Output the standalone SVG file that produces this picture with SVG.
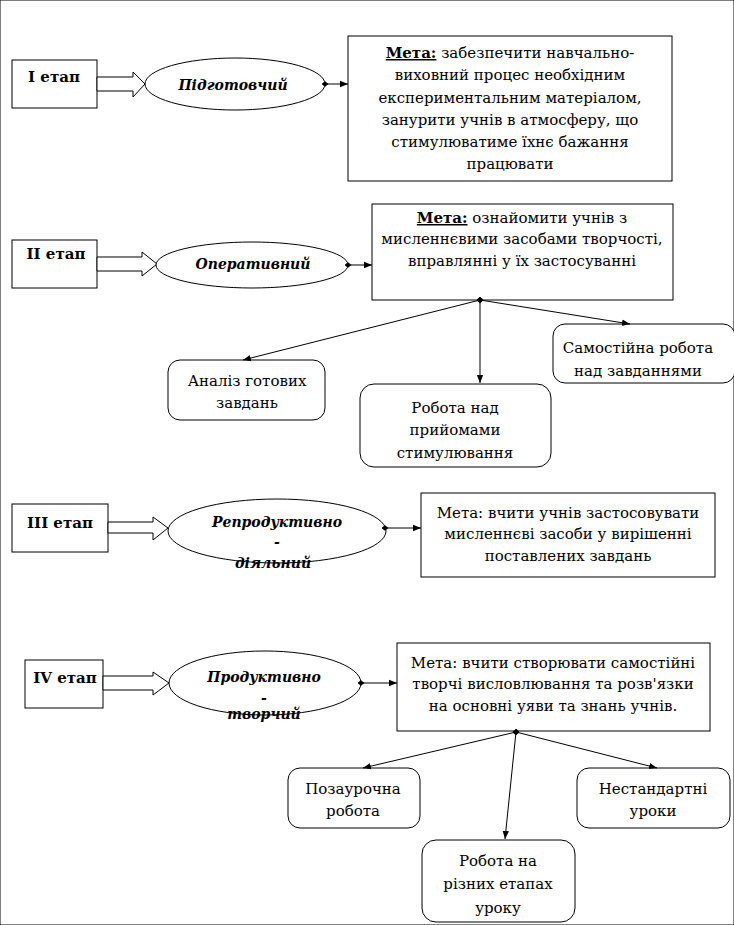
<svg xmlns="http://www.w3.org/2000/svg" width="734" height="925" viewBox="0 0 734 925" font-family="'DejaVu Serif', serif">
<defs>
<marker id="tri" viewBox="0 0 10 10" refX="10" refY="5" markerWidth="8" markerHeight="8" markerUnits="userSpaceOnUse" orient="auto"><path d="M0,1 L10,5 L0,9 Z" fill="#000"/></marker>
<marker id="dia" viewBox="0 0 10 10" refX="5" refY="5" markerWidth="7" markerHeight="7" markerUnits="userSpaceOnUse" orient="auto"><path d="M0,5 L5,1 L10,5 L5,9 Z" fill="#000"/></marker>
</defs>
<style>
rect, ellipse, polygon { fill: #fff; stroke: #000; stroke-width: 1; }
text { font-size: 15px; fill: #000; text-anchor: middle; }
.stage { font-weight: bold; font-size: 15px; }
.oval { font-weight: bold; font-style: italic; font-size: 14px; }
.m { font-weight: bold; text-decoration: underline; }
.c line { stroke: #000; stroke-width: 1; marker-start: url(#dia); marker-end: url(#tri); }
</style>
<rect width="734" height="925" fill="#fff" stroke="none"/>

<!-- Stage 1 -->
<g id="stage1">
<rect x="12" y="60" width="85" height="48"/>
<text class="stage" x="54" y="82">І етап</text>
</g>
<g id="arrow1"><polygon points="97,77 133,77 133,72 145,84 133,97 133,91 97,91"/></g>
<g id="oval1">
<ellipse cx="235" cy="84" rx="90" ry="26"/>
<text class="oval" x="233" y="90">Підготовчий</text>
</g>
<g id="goal1">
<rect x="348" y="36" width="324" height="145"/>
<text x="510" y="58"><tspan class="m">Мета:</tspan> забезпечити навчально-</text>
<text x="510" y="80">виховний процес необхідним</text>
<text x="510" y="103">експериментальним матеріалом,</text>
<text x="510" y="125">занурити учнів в атмосферу, що</text>
<text x="510" y="147">стимулюватиме їхнє бажання</text>
<text x="510" y="169">працювати</text>
</g>

<!-- Stage 2 -->
<g id="stage2">
<rect x="12" y="240" width="85" height="48"/>
<text class="stage" x="56" y="259">ІІ етап</text>
</g>
<g id="arrow2"><polygon points="97,257 142,257 142,252 157,264 142,276 142,271 97,271"/></g>
<g id="oval2">
<ellipse cx="252" cy="265" rx="96" ry="23"/>
<text class="oval" x="253" y="269">Оперативний</text>
</g>
<g id="goal2">
<rect x="372" y="204" width="301" height="96"/>
<text x="522" y="223"><tspan class="m">Мета:</tspan> ознайомити учнів з</text>
<text x="522" y="244">мисленнєвими засобами творчості,</text>
<text x="522" y="266">вправлянні у їх застосуванні</text>
</g>
<g id="self">
<rect x="553" y="324" width="182" height="59" rx="12"/>
<text x="638" y="353">Самостійна робота</text>
<text x="638" y="376">над завданнями</text>
</g>
<g id="analysis">
<rect x="168" y="360" width="157" height="60" rx="12"/>
<text x="247" y="386">Аналіз готових</text>
<text x="247" y="408">завдань</text>
</g>
<g id="stim">
<rect x="360" y="384" width="191" height="83" rx="14"/>
<text x="455" y="413">Робота над</text>
<text x="455" y="435">прийомами</text>
<text x="455" y="458">стимулювання</text>
</g>

<!-- Stage 3 -->
<g id="stage3">
<rect x="12" y="504" width="96" height="48"/>
<text class="stage" x="60" y="528">ІІІ етап</text>
</g>
<g id="arrow3"><polygon points="108,522 153,522 153,517 168,528 153,540 153,533 108,533"/></g>
<g id="oval3">
<ellipse cx="277" cy="531" rx="109" ry="32"/>
<text class="oval" x="277" y="527">Репродуктивно</text>
<text class="oval" x="277" y="547">-</text>
<text class="oval" x="273" y="568">діяльний</text>
</g>
<g id="goal3">
<rect x="421" y="493" width="294" height="84"/>
<text x="568" y="518">Мета: вчити учнів застосовувати</text>
<text x="568" y="539">мисленнєві засоби у вирішенні</text>
<text x="568" y="561">поставлених завдань</text>
</g>

<!-- Stage 4 -->
<g id="stage4">
<rect x="25" y="660" width="78" height="48"/>
<text class="stage" x="65" y="683">IV етап</text>
</g>
<g id="arrow4"><polygon points="103,676 153,676 153,672 169,683 153,695 153,690 103,690"/></g>
<g id="oval4">
<ellipse cx="265" cy="683" rx="96" ry="32"/>
<text class="oval" x="264" y="682">Продуктивно</text>
<text class="oval" x="264" y="703">-</text>
<text class="oval" x="264" y="719">творчий</text>
</g>
<g id="goal4">
<rect x="397" y="643" width="313" height="88"/>
<text x="553" y="668">Мета: вчити створювати самостійні</text>
<text x="553" y="689">творчі висловлювання та розв'язки</text>
<text x="553" y="711">на основні уяви та знань учнів.</text>
</g>
<g id="extra">
<rect x="288" y="768" width="132" height="60" rx="12"/>
<text x="353" y="794">Позаурочна</text>
<text x="353" y="816">робота</text>
</g>
<g id="nonstd">
<rect x="577" y="768" width="153" height="60" rx="12"/>
<text x="653" y="794">Нестандартні</text>
<text x="653" y="816">уроки</text>
</g>
<g id="stages">
<rect x="422" y="840" width="153" height="82" rx="14"/>
<text x="498" y="866">Робота на</text>
<text x="498" y="889">різних етапах</text>
<text x="498" y="913">уроку</text>
</g>

<g id="connectors" class="c">
<line x1="325" y1="84" x2="348" y2="84"/>
<line x1="348" y1="265" x2="372" y2="265"/>
<line x1="480" y1="300" x2="630" y2="324"/>
<line x1="480" y1="300" x2="480" y2="383"/>
<line x1="480" y1="300" x2="243" y2="360"/>
<line x1="385" y1="528" x2="421" y2="528"/>
<line x1="361" y1="683" x2="397" y2="683"/>
<line x1="516" y1="732" x2="363" y2="768"/>
<line x1="516" y1="732" x2="657" y2="768"/>
<line x1="516" y1="732" x2="505" y2="839"/>
</g>
</svg>
